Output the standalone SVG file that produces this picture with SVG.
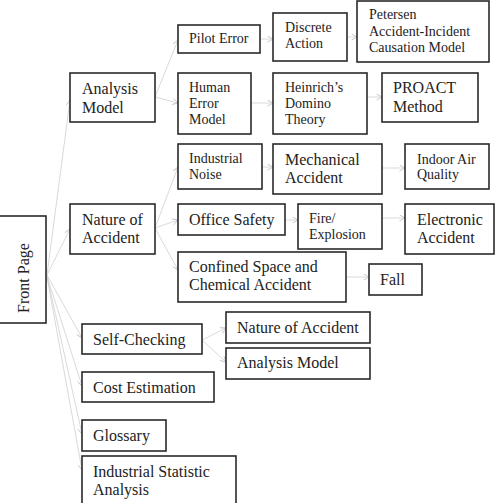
<svg xmlns="http://www.w3.org/2000/svg" width="497" height="503" viewBox="0 0 497 503">
<defs>
<style>
.b{fill:#fff;stroke:#2a2a2a;stroke-width:1.6}
.t{font-family:'Liberation Serif','Times New Roman',Tinos,'DejaVu Serif',serif;fill:#222}
.s14{font-size:14px}
.s16{font-size:16px}
.c line{stroke:#cfcfcf;stroke-width:0.8;marker-end:url(#ah)}
</style>
<marker id="ah" markerWidth="7" markerHeight="7" refX="6" refY="3.5" orient="auto" markerUnits="userSpaceOnUse">
<path d="M0.5,0.5 L6,3.5 L0.5,6.5" fill="none" stroke="#c4c4c4" stroke-width="0.9"/>
</marker>
</defs>
<rect width="497" height="503" fill="#fff"/>
<g id="connectors" class="c">
<line x1="47" y1="275" x2="70" y2="100"/>
<line x1="47" y1="275" x2="70" y2="229"/>
<line x1="47" y1="275" x2="82" y2="338"/>
<line x1="47" y1="276" x2="82" y2="386"/>
<line x1="47" y1="276" x2="82" y2="434"/>
<line x1="47" y1="277" x2="82" y2="470"/>
<line x1="155" y1="97" x2="178" y2="40"/>
<line x1="155" y1="97" x2="178" y2="103"/>
<line x1="155" y1="228" x2="178" y2="167"/>
<line x1="155" y1="228" x2="178" y2="220"/>
<line x1="155" y1="228" x2="178" y2="270"/>
<line x1="202" y1="340" x2="226" y2="328"/>
<line x1="202" y1="340" x2="226" y2="362"/>
<line x1="260" y1="39" x2="273" y2="39"/>
<line x1="347" y1="37" x2="357" y2="37"/>
<line x1="251" y1="103" x2="273" y2="103"/>
<line x1="367" y1="97" x2="382" y2="97"/>
<line x1="262" y1="167" x2="273" y2="167"/>
<line x1="382" y1="168" x2="405" y2="168"/>
<line x1="285" y1="220" x2="298" y2="220"/>
<line x1="382" y1="218" x2="405" y2="218"/>
<line x1="346" y1="277" x2="369" y2="277"/>
</g>
<g id="front-page"><rect class="b" x="-1" y="216" width="47" height="107"/><text class="t s16" font-family="Liberation Serif, serif" transform="translate(29,278) rotate(-90)" text-anchor="middle">Front Page</text></g>
<g id="analysis-model"><rect class="b" x="70" y="73" width="85" height="49"/><text class="t s16" x="82" y="94">Analysis</text><text class="t s16" x="82" y="113">Model</text></g>
<g id="pilot-error"><rect class="b" x="178" y="25" width="82" height="28"/><text class="t s14" x="189" y="43">Pilot Error</text></g>
<g id="discrete-action"><rect class="b" x="273" y="13" width="74" height="48"/><text class="t s14" x="285" y="32">Discrete</text><text class="t s14" x="285" y="48">Action</text></g>
<g id="petersen"><rect class="b" x="357" y="1" width="132" height="61"/><text class="t s14" x="369" y="19">Petersen</text><text class="t s14" x="369" y="36">Accident-Incident</text><text class="t s14" x="369" y="52">Causation Model</text></g>
<g id="human-error-model"><rect class="b" x="178" y="73" width="73" height="61"/><text class="t s14" x="189" y="92">Human</text><text class="t s14" x="189" y="108">Error</text><text class="t s14" x="189" y="124">Model</text></g>
<g id="heinrich"><rect class="b" x="273" y="73" width="94" height="61"/><text class="t s14" x="285" y="92">Heinrich’s</text><text class="t s14" x="285" y="108">Domino</text><text class="t s14" x="285" y="124">Theory</text></g>
<g id="proact"><rect class="b" x="382" y="73" width="96" height="49"/><text class="t s16" x="393" y="93">PROACT</text><text class="t s16" x="393" y="112">Method</text></g>
<g id="nature-of-accident"><rect class="b" x="70" y="204" width="85" height="50"/><text class="t s16" x="82" y="225">Nature of</text><text class="t s16" x="82" y="243">Accident</text></g>
<g id="industrial-noise"><rect class="b" x="178" y="144" width="84" height="45"/><text class="t s14" x="189" y="163">Industrial</text><text class="t s14" x="189" y="179">Noise</text></g>
<g id="mechanical-accident"><rect class="b" x="273" y="144" width="109" height="50"/><text class="t s16" x="285" y="165">Mechanical</text><text class="t s16" x="285" y="183">Accident</text></g>
<g id="indoor-air-quality"><rect class="b" x="405" y="144" width="84" height="45"/><text class="t s14" x="417" y="164">Indoor Air</text><text class="t s14" x="417" y="179">Quality</text></g>
<g id="office-safety"><rect class="b" x="178" y="204" width="107" height="31"/><text class="t s16" x="189" y="225">Office Safety</text></g>
<g id="fire-explosion"><rect class="b" x="298" y="204" width="84" height="45"/><text class="t s14" x="309" y="223">Fire/</text><text class="t s14" x="309" y="239">Explosion</text></g>
<g id="electronic-accident"><rect class="b" x="405" y="204" width="89" height="50"/><text class="t s16" x="417" y="225">Electronic</text><text class="t s16" x="417" y="243">Accident</text></g>
<g id="confined-space"><rect class="b" x="178" y="252" width="168" height="50"/><text class="t s16" x="189" y="272">Confined Space and</text><text class="t s16" x="189" y="290">Chemical Accident</text></g>
<g id="fall"><rect class="b" x="369" y="264" width="53" height="31"/><text class="t s16" x="380" y="285">Fall</text></g>
<g id="self-checking"><rect class="b" x="82" y="324" width="120" height="30"/><text class="t s16" x="93" y="345">Self-Checking</text></g>
<g id="sc-nature-of-accident"><rect class="b" x="226" y="312" width="144" height="31"/><text class="t s16" x="237" y="333">Nature of Accident</text></g>
<g id="sc-analysis-model"><rect class="b" x="226" y="348" width="144" height="31"/><text class="t s16" x="237" y="368">Analysis Model</text></g>
<g id="cost-estimation"><rect class="b" x="82" y="372" width="132" height="30"/><text class="t s16" x="93" y="393">Cost Estimation</text></g>
<g id="glossary"><rect class="b" x="82" y="420" width="84" height="31"/><text class="t s16" x="93" y="441">Glossary</text></g>
<g id="industrial-statistic-analysis"><rect class="b" x="82" y="456" width="154" height="52"/><text class="t s16" x="93" y="477">Industrial Statistic</text><text class="t s16" x="93" y="495">Analysis</text></g>
</svg>
